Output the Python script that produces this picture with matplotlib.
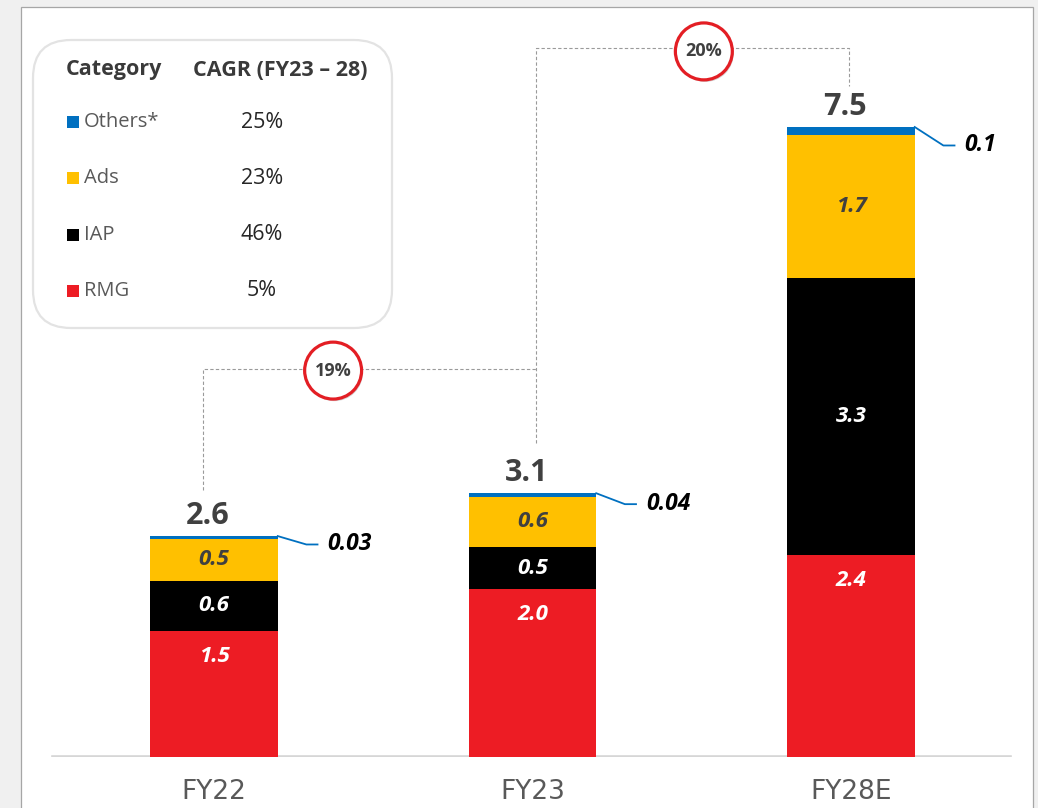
import matplotlib
matplotlib.use("Agg")
import matplotlib.pyplot as plt
import matplotlib.patheffects as pe
from matplotlib.patches import Rectangle, FancyBboxPatch

plt.rcParams['font.family'] = ['Open Sans', 'DejaVu Sans']

# data
years = ["FY22", "FY23", "FY28E"]
rmg = [1.5, 2.0, 2.4]
iap = [0.6, 0.5, 3.3]
ads = [0.5, 0.6, 1.7]
others = [0.03, 0.04, 0.1]
others_txt = ["0.03", "0.04", "0.1"]
totals = [2.6, 3.1, 7.5]

categories = ["Others*", "Ads", "IAP", "RMG"]
cagr = ["25%", "23%", "46%", "5%"]
growth = ["19%", "20%"]

c_rmg, c_iap, c_ads, c_oth = "#ed1c24", "#000000", "#ffc000", "#0070c0"
cat_colors = [c_oth, c_ads, c_iap, c_rmg]
dark = "#404040"

W, H = 1038, 808
fig = plt.figure(figsize=(W / 100, H / 100), dpi=100)
fig.patch.set_facecolor("#f0f0f0")

# background layer (pixel coords): panel + legend box
bg = fig.add_axes([0, 0, 1, 1])
bg.set_xlim(0, W)
bg.set_ylim(H, 0)
bg.axis("off")
bg.add_patch(Rectangle((20.5, 6.5), 1012, 820, fc="white", ec="#a6a6a6", lw=0.9))
bg.add_patch(FancyBboxPatch((33, 40), 359, 288, boxstyle="round,pad=0,rounding_size=38",
                            fc="white", ec="#e3e3e3", lw=1.6))
bg.text(66, 70, "Category", fontsize=15.5, fontweight="bold", color="#3a3a3a", va="center", ha="left")
bg.text(280, 70, "CAGR (FY23 \u2013 28)", fontsize=15.5, fontweight="bold", color="#3a3a3a",
        va="center", ha="center")
row_y = [122, 178, 235, 291]
for cat, val, col, y in zip(categories, cagr, cat_colors, row_y):
    bg.add_patch(Rectangle((67, y - 6), 12, 12, fc=col, ec="none"))
    bg.text(84, y, cat, fontsize=14.5, color="#595959", va="center", ha="left")
    bg.text(262, y, val, fontsize=15.5, color="#262626", va="center", ha="center")

# data layer
ax = fig.add_axes([0, 51 / H, 1, 757 / H])
ax.patch.set_alpha(0)
ax.set_xlim(-214 / 318.5, (W - 214) / 318.5)
ax.set_ylim(0, 757 / 84)
for s in ax.spines.values():
    s.set_visible(False)
ax.set_yticks([])
x = list(range(len(years)))
ax.set_xticks(x)
ax.set_xticklabels(years, fontsize=19, color="#595959", family=["Liberation Sans Narrow", "DejaVu Sans"])
ax.tick_params(axis="x", length=0, pad=16)
ax.axhline(0, xmin=53 / W, xmax=1010 / W, color="#d6d6d6", lw=2.6, zorder=1)

bw = 0.4
b1 = [r for r in rmg]
b2 = [r + i for r, i in zip(rmg, iap)]
b3 = [a + b for a, b in zip(b2, ads)]
ax.bar(x, rmg, bw, color=c_rmg, zorder=2)
ax.bar(x, iap, bw, bottom=b1, color=c_iap, zorder=2)
ax.bar(x, ads, bw, bottom=b2, color=c_ads, zorder=2)
ax.bar(x, others, bw, bottom=b3, color=c_oth, zorder=2)

lab = dict(fontsize=16, fontweight="bold", fontstyle="italic", ha="center", va="center")
leader_drop = [0.1, 0.13, 0.22]
for i in x:
    ax.text(i, rmg[i] - 0.3, f"{rmg[i]:.1f}", color="white", **lab)
    ax.text(i, b1[i] + iap[i] / 2, f"{iap[i]:.1f}", color="white", **lab)
    ax.text(i, b2[i] + ads[i] / 2, f"{ads[i]:.1f}", color=dark, **lab)
    top = b3[i] + others[i]
    ax.text(i - 0.02, top + 0.24, f"{totals[i]:.1f}", fontsize=22, fontweight="bold",
            color=dark, ha="center", va="center")
    xe = i + bw / 2
    d = leader_drop[i]
    ax.plot([xe, xe + 0.09, xe + 0.125], [top, top - d, top - d], color=c_oth, lw=1.3, zorder=3)
    ax.text(xe + 0.157, top - d, others_txt[i], color="black", fontsize=16.5, fontweight="bold",
            fontstyle="italic", ha="left", va="center")

# growth brackets
dash = dict(color="#9a9a9a", lw=0.8, ls=(0, (3, 2)), zorder=3)
ax.plot([-0.035, -0.035, 1.011], [3.18, 4.62, 4.62], **dash)
ax.plot([1.011, 1.011, 1.994, 1.994], [3.74, 8.44, 8.44, 7.99], **dash)
circ_xy = [(0.374, 4.60), (1.538, 8.40)]
for (cx, cy), g in zip(circ_xy, growth):
    ax.plot([cx], [cy], marker="o", ms=41, mfc="white", mec="#e31e24", mew=2.3, zorder=4,
            path_effects=[pe.SimplePatchShadow(offset=(1, -1.5), shadow_rgbFace="#888888", alpha=0.35),
                          pe.Normal()])
    ax.text(cx, cy, g, fontsize=13, fontweight="bold", color=dark, ha="center", va="center", zorder=5)

fig.savefig("out.png", dpi=100, facecolor=fig.get_facecolor())
